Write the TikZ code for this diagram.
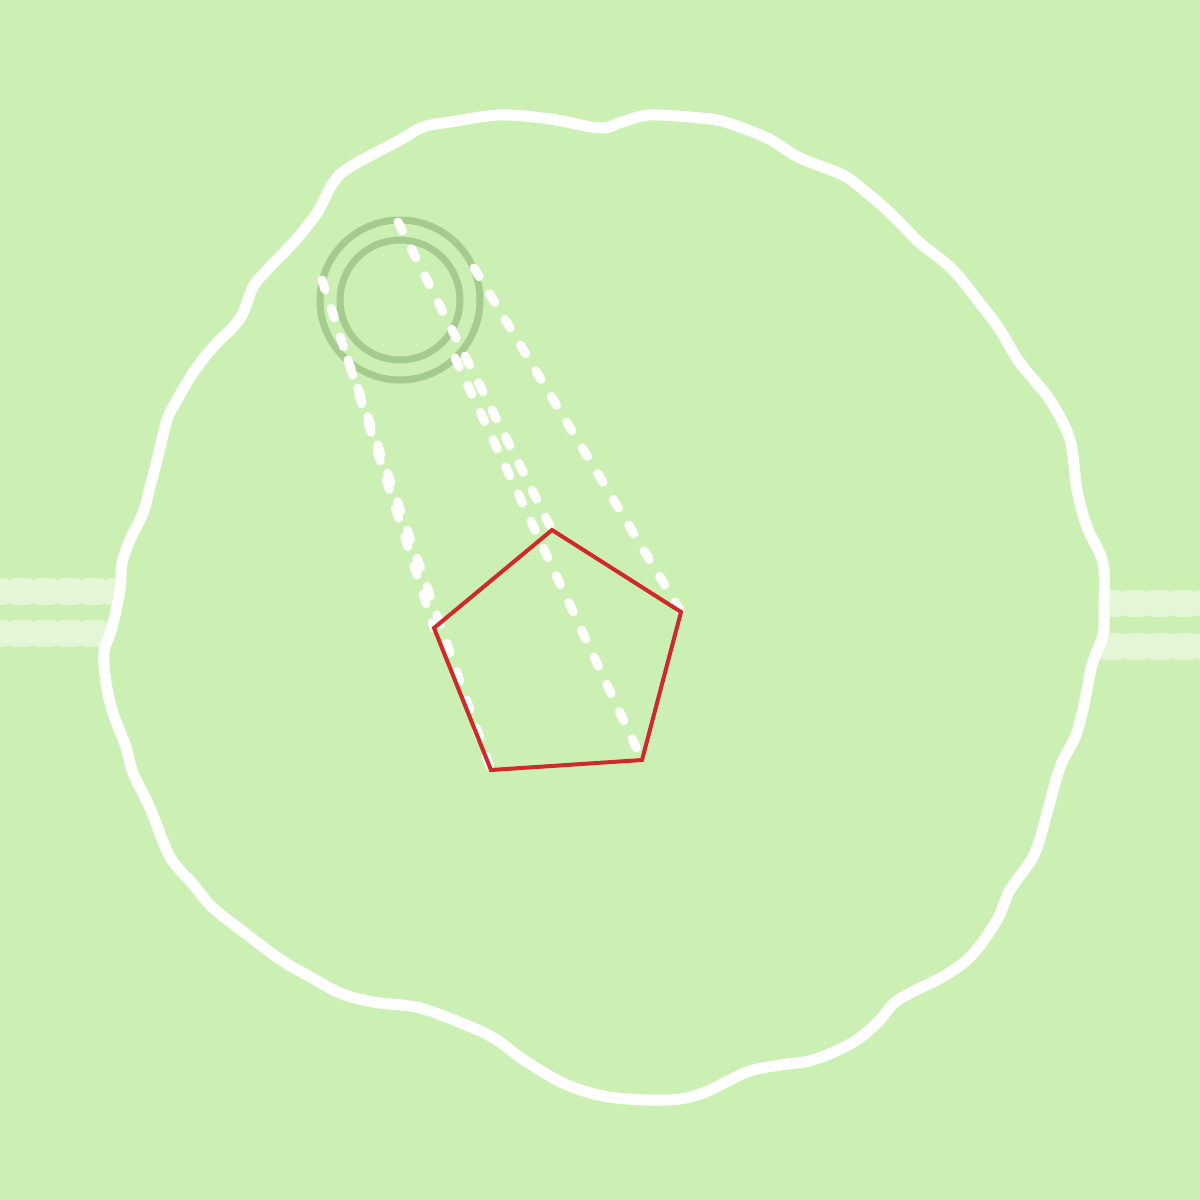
\documentclass[tikz,border=0pt]{standalone}
\definecolor{bg}{RGB}{204,240,180}
\definecolor{ringc}{RGB}{165,203,143}
\definecolor{pentc}{RGB}{206,42,42}
\begin{document}
\begin{tikzpicture}[x=1pt,y=-1pt,
  outline/.style={draw=white,fill=bg,line width=11pt,line join=round},
  band/.style={draw=white,draw opacity=0.45,line width=27pt,dash pattern=on 10pt off 14pt,line cap=round},
  ringline/.style={draw=ringc,line width=7pt},
  ray/.style={draw=white,line width=9pt,line cap=round,dash pattern=on 10pt off 20pt},
  pentline/.style={draw=pentc,line width=4pt,line join=miter}]
\fill[bg] (0,0) rectangle (1200,1200);
\useasboundingbox (0,0) rectangle (1200,1200);
% side bands
\coordinate (bl1a) at (-8,591); \coordinate (bl1b) at (220,591);
\coordinate (bl2a) at (-8,633); \coordinate (bl2b) at (220,633);
\coordinate (br1a) at (1000,603); \coordinate (br1b) at (1212,603);
\coordinate (br2a) at (1000,646); \coordinate (br2b) at (1212,646);
\draw[band] (bl1a) -- (bl1b);
\draw[band] (bl2a) -- (bl2b);
\draw[band] (br1b) -- (br1a);
\draw[band] (br2b) -- (br2a);
% wavy outline
\draw[outline] plot[smooth cycle,tension=0.55] coordinates {
(500,115) (550,119) (600,128) (622,122) (650,115) (700,118) (725,122) (767,138)
(800,158) (843,175) (867,193) (887,210) (907,230) (920,243) (953,270) (983,307)
(1000,330) (1020,363) (1050,400) (1070,440) (1077,490) (1087,527) (1103,563)
(1104,607) (1103,635) (1092,665) (1085,700) (1076,735) (1060,767) (1047,813)
(1034,855) (1010,890) (997,920) (972,955) (944,976) (898,1000) (878,1022)
(852,1043) (813,1060) (780,1065) (747,1072) (703,1093) (668,1100) (609,1097)
(565,1084) (524,1060) (497,1040) (471,1027) (420,1008) (373,1002) (340,993)
(307,975) (281,960) (241,930) (212,907) (192,883) (170,857) (150,808) (133,773)
(126,747) (113,713) (106,683) (104,652) (112,628) (120,590) (122,563) (130,540)
(143,513) (150,487) (157,460) (167,420) (177,400) (193,373) (213,347) (233,327)
(243,313) (253,287) (267,270) (293,243) (317,213) (333,183) (350,167) (400,140)
(423,127) (450,122)};
% rings
\coordinate (C) at (400,300);
\draw[ringline] (C) circle[radius=80pt];
\draw[ringline] (C) circle[radius=60pt];
% pentagon vertices
\coordinate (Vt) at (552,530);
\coordinate (Vr) at (681,612);
\coordinate (Vbr) at (642,760);
\coordinate (Vbl) at (491,770);
\coordinate (Vl) at (434,628);
% ray starts on outer ring
\coordinate (P1) at (322,280);
\coordinate (P2) at (348,360);
\coordinate (P3) at (398,222);
\coordinate (P4) at (455,358);
\coordinate (P5) at (474,268);
\draw[ray] (P1) -- (Vl);
\draw[ray] (P2) -- (Vbl);
\draw[ray] (P3) -- (Vt);
\draw[ray] (P4) -- (Vbr);
\draw[ray] (P5) -- (Vr);
% pentagon
\draw[pentline] (Vt) -- (Vr) -- (Vbr) -- (Vbl) -- (Vl) -- cycle;
\end{tikzpicture}
\end{document}
